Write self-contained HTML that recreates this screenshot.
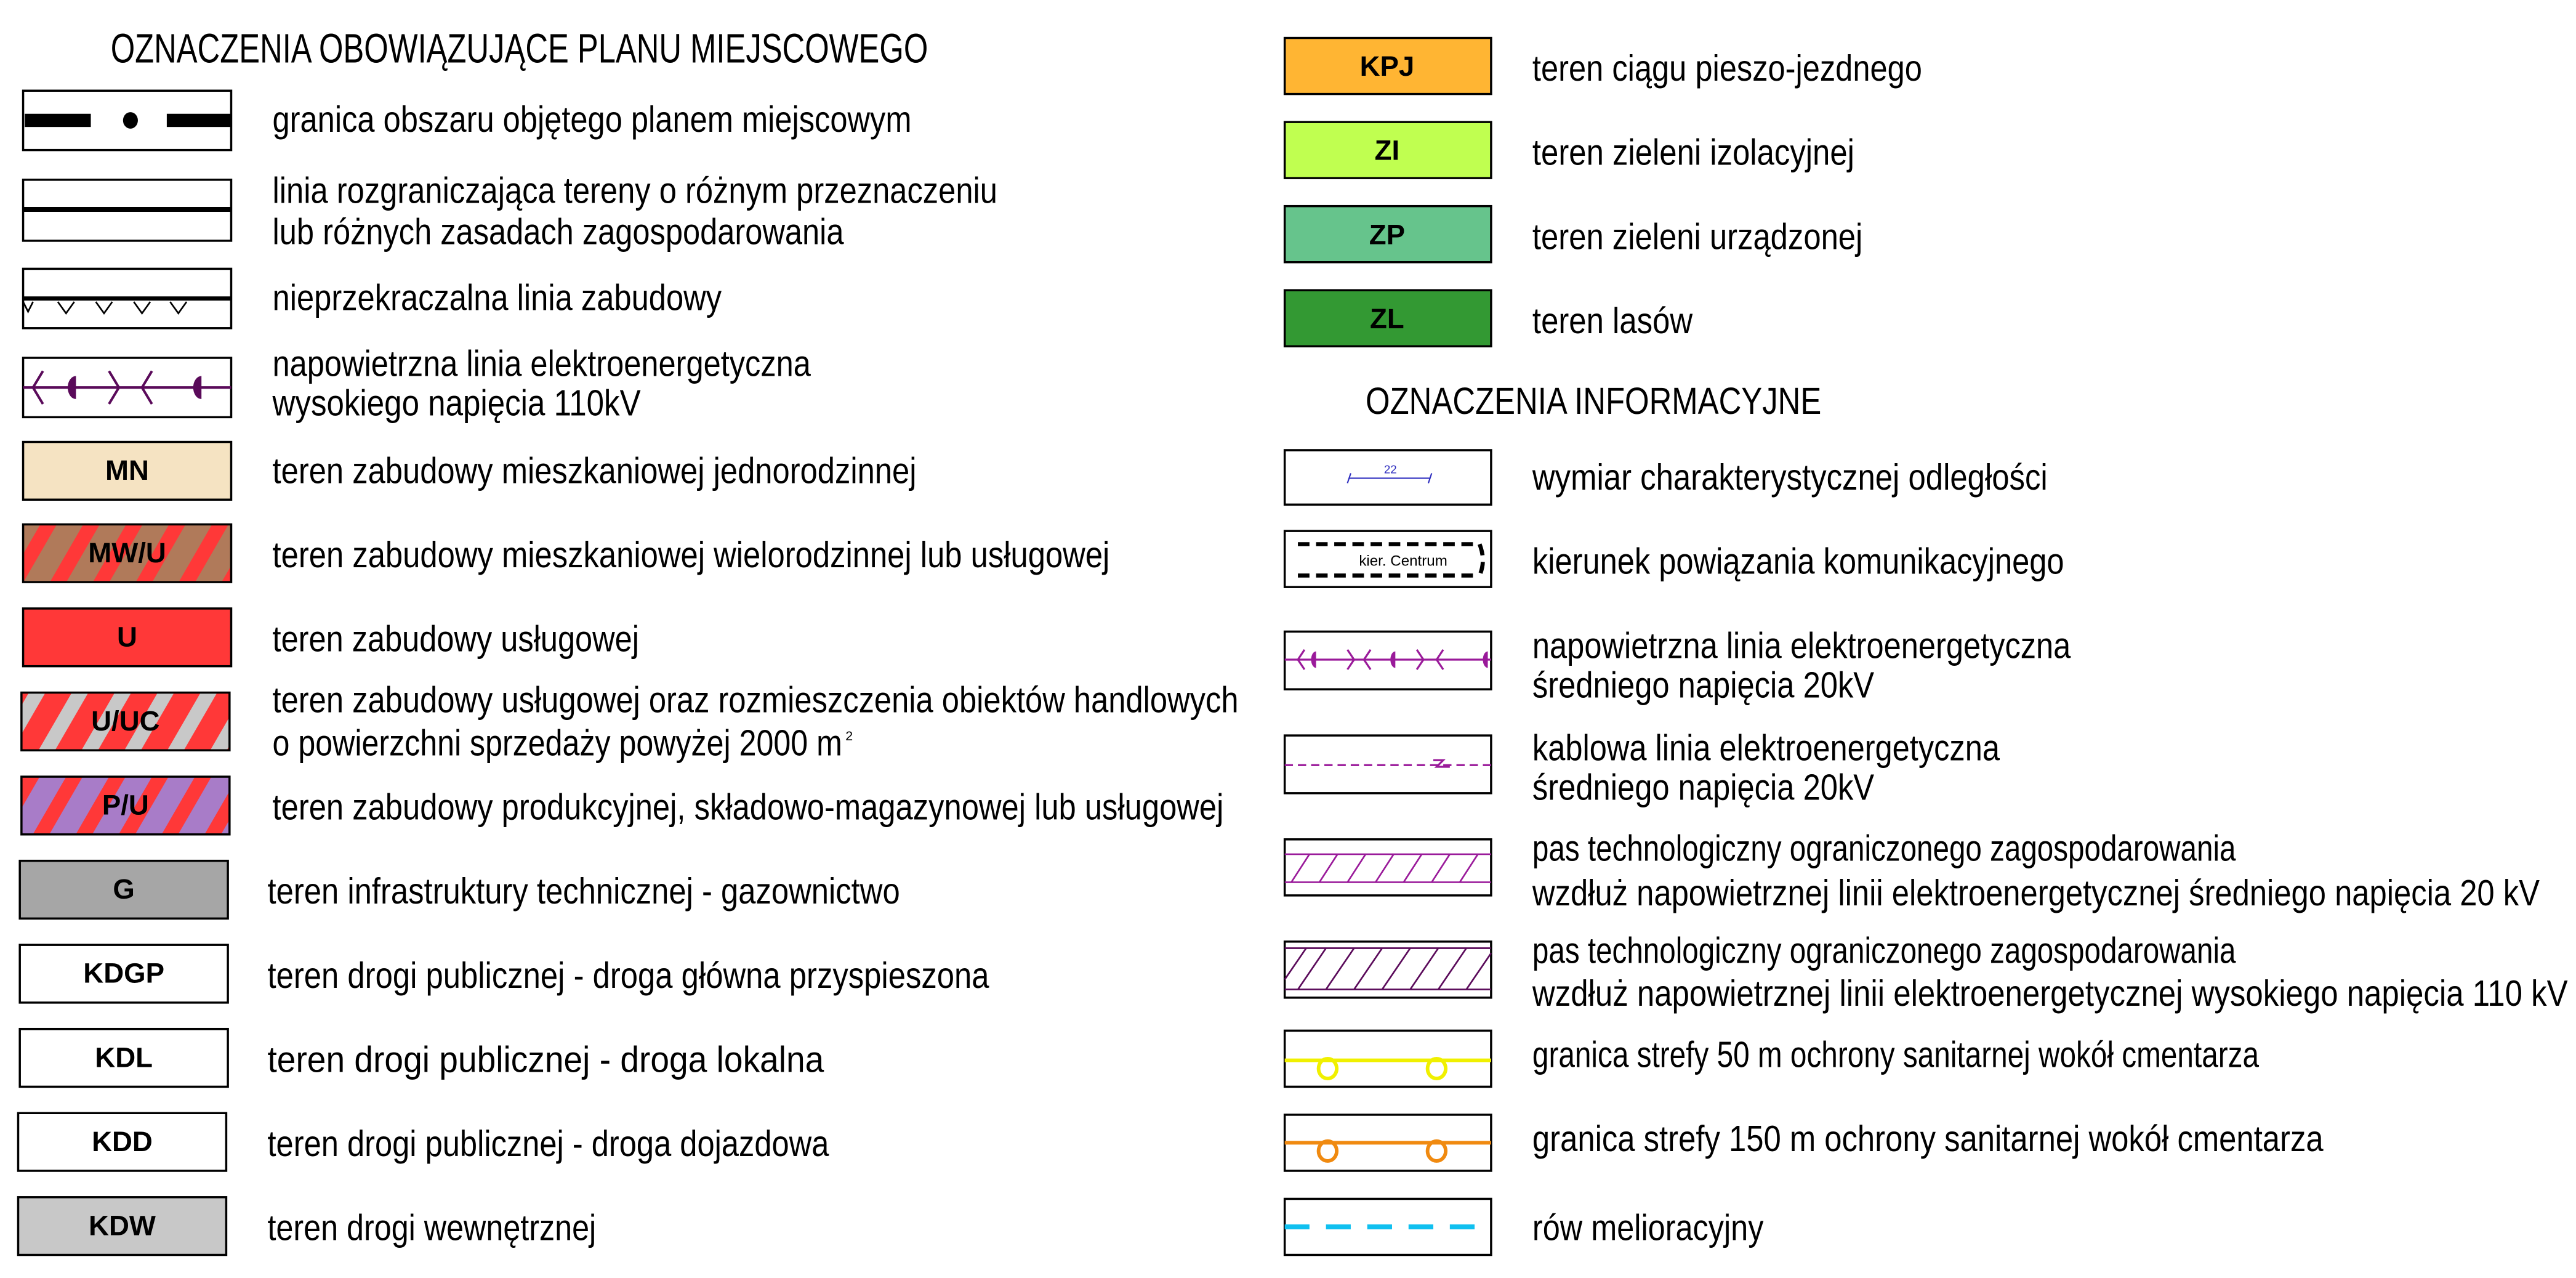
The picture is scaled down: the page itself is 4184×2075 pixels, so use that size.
<!DOCTYPE html>
<html><head><meta charset="utf-8"><style>html,body{margin:0;padding:0;background:#fff}svg{display:block}</style></head><body>
<svg xmlns="http://www.w3.org/2000/svg" width="4184" height="2075" viewBox="0 0 1560 775" preserveAspectRatio="none" font-family="'Liberation Sans', sans-serif">
<defs>
<pattern id="p1" patternUnits="userSpaceOnUse" width="26" height="36" patternTransform="skewX(-30)"><rect width="26" height="36" fill="#b07a5a"/><rect width="10" height="36" fill="#ff3838"/></pattern>
<pattern id="p2" patternUnits="userSpaceOnUse" width="26" height="36" patternTransform="skewX(-30)"><rect width="26" height="36" fill="#ff3838"/><rect width="10" height="36" fill="#c8c8c8"/></pattern>
<pattern id="p3" patternUnits="userSpaceOnUse" width="26" height="36" patternTransform="skewX(-30)"><rect width="26" height="36" fill="#a87cc8"/><rect width="10" height="36" fill="#ff3838"/></pattern>
</defs>
<rect width="1560" height="775" fill="#fff"/>
<g fill="#000">
<text x="67" y="38" font-size="25" textLength="495" lengthAdjust="spacingAndGlyphs">OZNACZENIA OBOWIĄZUJĄCE PLANU MIEJSCOWEGO</text>
<text x="827" y="251" font-size="23" textLength="276" lengthAdjust="spacingAndGlyphs">OZNACZENIA INFORMACYJNE</text>
</g>
<g fill="none" stroke="#000" stroke-width="1.3">
<rect x="14" y="55" width="126" height="36" fill="#fff"/>
<rect x="14" y="109" width="126" height="37"/>
<rect x="14" y="163" width="126" height="36"/>
<rect x="14" y="217" width="126" height="36"/>
<rect x="14" y="268" width="126" height="35" fill="#f5e3c2"/>
<rect x="14" y="318" width="126" height="35" fill="url(#p1)"/>
<rect x="14" y="369" width="126" height="35" fill="#ff3838"/>
<rect x="13" y="420" width="126" height="35" fill="url(#p2)"/>
<rect x="13" y="471" width="126" height="35" fill="url(#p3)"/>
<rect x="12" y="522" width="126" height="35" fill="#a6a6a6"/>
<rect x="12" y="573" width="126" height="35" fill="#fff"/>
<rect x="12" y="624" width="126" height="35" fill="#fff"/>
<rect x="11" y="675" width="126" height="35" fill="#fff"/>
<rect x="11" y="726" width="126" height="35" fill="#c8c8c8"/>
<rect x="778" y="23" width="125" height="34" fill="#ffb533"/>
<rect x="778" y="74" width="125" height="34" fill="#c0ff50"/>
<rect x="778" y="125" width="125" height="34" fill="#66c48c"/>
<rect x="778" y="176" width="125" height="34" fill="#339933"/>
<rect x="778" y="273" width="125" height="33"/>
<rect x="778" y="322" width="125" height="34"/>
<rect x="778" y="383" width="125" height="35"/>
<rect x="778" y="446" width="125" height="35"/>
<rect x="778" y="509" width="125" height="34"/>
<rect x="778" y="571" width="125" height="34"/>
<rect x="778" y="625" width="125" height="34"/>
<rect x="778" y="676" width="125" height="34"/>
<rect x="778" y="727" width="125" height="34"/>
</g>
<rect x="15" y="69" width="40" height="8" fill="#000"/><ellipse cx="79" cy="73" rx="4.5" ry="5" fill="#000"/><rect x="101" y="69" width="39" height="8" fill="#000"/>
<line x1="14" y1="127" x2="140" y2="127" stroke="#000" stroke-width="3"/>
<line x1="14" y1="181" x2="140" y2="181" stroke="#000" stroke-width="2.5"/>
<path d="M14 183 l3 6 l3 -6 M35 183 l5 7 l5 -7 M58 183 l5 7 l5 -7 M81 183 l5 7 l5 -7 M103 183 l5 7 l5 -7" fill="none" stroke="#000" stroke-width="1"/>
<g stroke="#5a0a5a" stroke-width="1.5" fill="none"><line x1="14" y1="235" x2="140" y2="235"/>
<path d="M26 225 l-6 10 l6 10 M66 225 l6 10 l-6 10 M92 225 l-6 10 l6 10"/></g>
<path d="M46 228 a5 7 0 0 0 0 14 z M122 228 a5 7 0 0 0 0 14 z" fill="#5a0a5a"/>
<g font-weight="bold" font-size="17" text-anchor="middle" fill="#000">
<text x="77" y="291">MN</text><text x="77" y="341">MW/U</text><text x="77" y="392">U</text><text x="76" y="443">U/UC</text><text x="76" y="494">P/U</text><text x="75" y="545">G</text><text x="75" y="596">KDGP</text><text x="75" y="647">KDL</text><text x="74" y="698">KDD</text><text x="74" y="749">KDW</text>
<text x="840" y="46">KPJ</text><text x="840" y="97">ZI</text><text x="840" y="148">ZP</text><text x="840" y="199">ZL</text>
</g>
<g font-size="22" fill="#000">
<text x="165" y="80" textLength="387" lengthAdjust="spacingAndGlyphs">granica obszaru objętego planem miejscowym</text>
<text x="165" y="123" textLength="439" lengthAdjust="spacingAndGlyphs">linia rozgraniczająca tereny o różnym przeznaczeniu</text>
<text x="165" y="148" textLength="346" lengthAdjust="spacingAndGlyphs">lub różnych zasadach zagospodarowania</text>
<text x="165" y="188" textLength="272" lengthAdjust="spacingAndGlyphs">nieprzekraczalna linia zabudowy</text>
<text x="165" y="228" textLength="326" lengthAdjust="spacingAndGlyphs">napowietrzna linia elektroenergetyczna</text>
<text x="165" y="252" textLength="223" lengthAdjust="spacingAndGlyphs">wysokiego napięcia 110kV</text>
<text x="165" y="293" textLength="390" lengthAdjust="spacingAndGlyphs">teren zabudowy mieszkaniowej jednorodzinnej</text>
<text x="165" y="344" textLength="507" lengthAdjust="spacingAndGlyphs">teren zabudowy mieszkaniowej wielorodzinnej lub usługowej</text>
<text x="165" y="395" textLength="222" lengthAdjust="spacingAndGlyphs">teren zabudowy usługowej</text>
<text x="165" y="432" textLength="585" lengthAdjust="spacingAndGlyphs">teren zabudowy usługowej oraz rozmieszczenia obiektów handlowych</text>
<text x="165" y="458" textLength="345" lengthAdjust="spacingAndGlyphs">o powierzchni sprzedaży powyżej 2000 m</text><text x="512" y="449" font-size="8">2</text>
<text x="165" y="497" textLength="576" lengthAdjust="spacingAndGlyphs">teren zabudowy produkcyjnej, składowo-magazynowej lub usługowej</text>
<text x="162" y="548" textLength="383" lengthAdjust="spacingAndGlyphs">teren infrastruktury technicznej - gazownictwo</text>
<text x="162" y="599" textLength="437" lengthAdjust="spacingAndGlyphs">teren drogi publicznej - droga główna przyspieszona</text>
<text x="162" y="650" textLength="337" lengthAdjust="spacingAndGlyphs">teren drogi publicznej - droga lokalna</text>
<text x="162" y="701" textLength="340" lengthAdjust="spacingAndGlyphs">teren drogi publicznej - droga dojazdowa</text>
<text x="162" y="752" textLength="199" lengthAdjust="spacingAndGlyphs">teren drogi wewnętrznej</text>
<text x="928" y="49" textLength="236" lengthAdjust="spacingAndGlyphs">teren ciągu pieszo-jezdnego</text>
<text x="928" y="100" textLength="195" lengthAdjust="spacingAndGlyphs">teren zieleni izolacyjnej</text>
<text x="928" y="151" textLength="200" lengthAdjust="spacingAndGlyphs">teren zieleni urządzonej</text>
<text x="928" y="202" textLength="97" lengthAdjust="spacingAndGlyphs">teren lasów</text>
<text x="928" y="297" textLength="312" lengthAdjust="spacingAndGlyphs">wymiar charakterystycznej odległości</text>
<text x="928" y="348" textLength="322" lengthAdjust="spacingAndGlyphs">kierunek powiązania komunikacyjnego</text>
<text x="928" y="399" textLength="326" lengthAdjust="spacingAndGlyphs">napowietrzna linia elektroenergetyczna</text>
<text x="928" y="423" textLength="207" lengthAdjust="spacingAndGlyphs">średniego napięcia 20kV</text>
<text x="928" y="461" textLength="283" lengthAdjust="spacingAndGlyphs">kablowa linia elektroenergetyczna</text>
<text x="928" y="485" textLength="207" lengthAdjust="spacingAndGlyphs">średniego napięcia 20kV</text>
<text x="928" y="522" textLength="426" lengthAdjust="spacingAndGlyphs">pas technologiczny ograniczonego zagospodarowania</text>
<text x="928" y="549" textLength="610" lengthAdjust="spacingAndGlyphs">wzdłuż napowietrznej linii elektroenergetycznej średniego napięcia 20 kV</text>
<text x="928" y="584" textLength="426" lengthAdjust="spacingAndGlyphs">pas technologiczny ograniczonego zagospodarowania</text>
<text x="928" y="610" textLength="627" lengthAdjust="spacingAndGlyphs">wzdłuż napowietrznej linii elektroenergetycznej wysokiego napięcia 110 kV</text>
<text x="928" y="647" textLength="440" lengthAdjust="spacingAndGlyphs">granica strefy 50 m ochrony sanitarnej wokół cmentarza</text>
<text x="928" y="698" textLength="479" lengthAdjust="spacingAndGlyphs">granica strefy 150 m ochrony sanitarnej wokół cmentarza</text>
<text x="928" y="752" textLength="140" lengthAdjust="spacingAndGlyphs">rów melioracyjny</text>
</g>
<g stroke="#3030c0" stroke-width="0.8" fill="none"><line x1="817" y1="290" x2="866" y2="290"/><path d="M816 293 l2 -6 M865 293 l2 -6"/></g>
<text x="842" y="287" font-size="7" fill="#3030c0" text-anchor="middle">22</text>
<g stroke="#000" stroke-width="2.5" stroke-dasharray="7,4" fill="none"><line x1="786" y1="330" x2="896" y2="330"/><line x1="786" y1="349" x2="896" y2="349"/><path d="M896 330 q4 10 0 19"/></g>
<text x="823" y="343" font-size="9" fill="#000">kier. Centrum</text>
<g stroke="#9a1a9a" stroke-width="1.2" fill="none"><line x1="778" y1="400" x2="903" y2="400"/>
<path d="M790 394 l-4 6 l4 6 M816 394 l4 6 l-4 6 M830 394 l-4 6 l4 6 M858 394 l4 6 l-4 6 M874 394 l-4 6 l4 6"/></g>
<path d="M797 395 a3 5 0 0 0 0 10 z M845 395 a3 5 0 0 0 0 10 z M901 395 a3 5 0 0 0 0 10 z" fill="#9a1a9a"/>
<line x1="778" y1="464" x2="903" y2="464" stroke="#9a1a9a" stroke-width="1.2" stroke-dasharray="5,3"/>
<path d="M868 461 h6 l-4 4 h8" stroke="#9a1a9a" stroke-width="1.2" fill="none"/>
<g stroke="#9a1a9a" stroke-width="1" fill="none"><line x1="778" y1="518" x2="903" y2="518"/><line x1="778" y1="535" x2="903" y2="535"/>
<path d="M782 535 l11 -17 M799 535 l11 -17 M816 535 l11 -17 M833 535 l11 -17 M850 535 l11 -17 M867 535 l11 -17 M884 535 l11 -17"/></g>
<g stroke="#5a0a5a" stroke-width="1" fill="none"><line x1="778" y1="575" x2="903" y2="575"/><line x1="778" y1="600" x2="903" y2="600"/>
<path d="M778 594 l13 -19 M786 600 l17 -25 M803 600 l17 -25 M820 600 l17 -25 M837 600 l17 -25 M854 600 l17 -25 M871 600 l17 -25 M888 600 l15 -22"/></g>
<line x1="778" y1="643" x2="903" y2="643" stroke="#f0f000" stroke-width="2.2"/>
<ellipse cx="804" cy="648" rx="5.5" ry="6" stroke="#f0f000" stroke-width="2.2" fill="none"/><ellipse cx="870" cy="648" rx="5.5" ry="6" stroke="#f0f000" stroke-width="2.2" fill="none"/>
<line x1="778" y1="693" x2="903" y2="693" stroke="#f08a10" stroke-width="2.2"/>
<ellipse cx="804" cy="698" rx="5.5" ry="6" stroke="#f08a10" stroke-width="2.2" fill="none"/><ellipse cx="870" cy="698" rx="5.5" ry="6" stroke="#f08a10" stroke-width="2.2" fill="none"/>
<line x1="778" y1="744" x2="903" y2="744" stroke="#10c0f0" stroke-width="3" stroke-dasharray="15,10"/>
</svg>
</body></html>
